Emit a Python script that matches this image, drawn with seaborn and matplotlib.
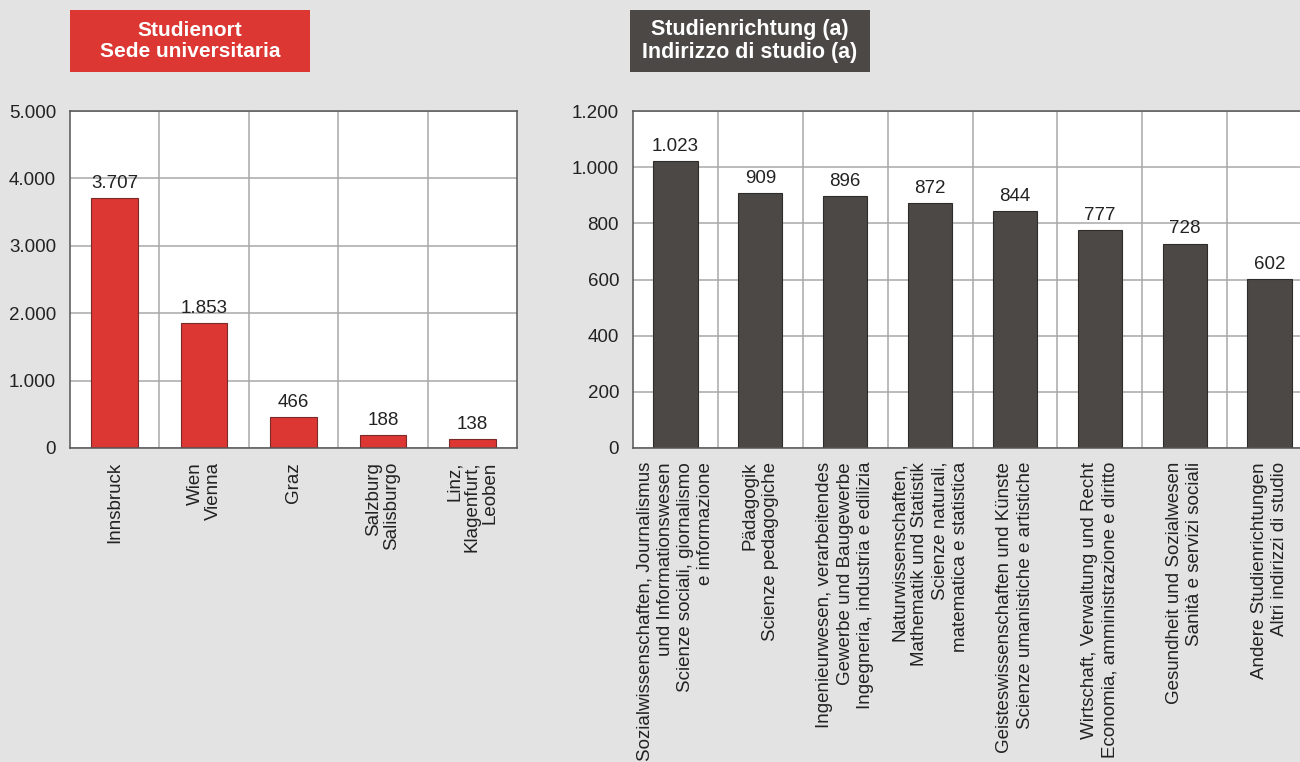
import matplotlib
matplotlib.use("Agg")
import matplotlib.pyplot as plt
import seaborn as sns
import numpy as np
from matplotlib.ticker import FuncFormatter, FixedLocator
from matplotlib.patches import Rectangle

# ---- data ----
orte = ["Innsbruck", "Wien\nVienna", "Graz", "Salzburg\nSalisburgo", "Linz,\nKlagenfurt,\nLeoben"]
orte_vals = [3707, 1853, 466, 188, 138]

richtungen = [
    "Sozialwissenschaften, Journalismus\nund Informationswesen\nScienze sociali, giornalismo\ne informazione",
    "Pädagogik\nScienze pedagogiche",
    "Ingenieurwesen, verarbeitendes\nGewerbe und Baugewerbe\nIngegneria, industria e edilizia",
    "Naturwissenschaften,\nMathematik und Statistik\nScienze naturali,\nmatematica e statistica",
    "Geisteswissenschaften und Künste\nScienze umanistiche e artistiche",
    "Wirtschaft, Verwaltung und Recht\nEconomia, amministrazione e diritto",
    "Gesundheit und Sozialwesen\nSanità e servizi sociali",
    "Andere Studienrichtungen\nAltri indirizzi di studio",
]
richtungen_vals = [1023, 909, 896, 872, 844, 777, 728, 602]

title_left = "Studienort\nSede universitaria"
title_right = "Studienrichtung (a)\nIndirizzo di studio (a)"

RED = "#dc3733"
DARK = "#4b4845"
BG = "#e3e3e3"
GRID = "#a8a8a8"
TXT = "#222222"

sns.set_style("white")
plt.rcParams['font.family'] = ['Liberation Sans', 'DejaVu Sans']

fig = plt.figure(figsize=(13, 7.62), dpi=100, facecolor=BG)

def fmt(v, pos=None):
    return f"{int(v):,}".replace(",", ".")

FS = 13.5

def style_axes(ax, n, ymax, step):
    ax.set_facecolor("white")
    ax.set_xlim(-0.5, n - 0.5)
    ax.set_ylim(0, ymax)
    ax.yaxis.set_major_locator(FixedLocator(np.arange(0, ymax + 1, step)))
    ax.yaxis.set_major_formatter(FuncFormatter(fmt))
    ax.xaxis.set_minor_locator(FixedLocator(np.arange(0.5, n - 0.5, 1)))
    ax.grid(axis="y", which="major", color=GRID, lw=1.1)
    ax.grid(axis="x", which="minor", color=GRID, lw=1.1)
    ax.set_axisbelow(True)
    for s in ax.spines.values():
        s.set_color("#555555")
        s.set_linewidth(1.1)
    ax.tick_params(axis="both", which="both", length=0, labelsize=FS, colors=TXT)
    ax.tick_params(axis="y", pad=10)
    ax.tick_params(axis="x", pad=10)
    ax.set_xlabel("")
    ax.set_ylabel("")

def set_labels(ax, labels, ls):
    ax.set_xticks(range(len(labels)))
    ax.set_xticklabels(labels, rotation=90, ha="center", va="top",
                       multialignment="right", linespacing=ls)

# left
ax1 = fig.add_axes([70/1300, 1-448/762, (517-70)/1300, (448-111)/762])
sns.barplot(x=list(range(len(orte))), y=orte_vals, color=RED, width=0.52,
            edgecolor="#7a2a28", linewidth=0.8, saturation=1, ax=ax1)
style_axes(ax1, len(orte), 5000, 1000)
set_labels(ax1, orte, 1.05)
for i, v in enumerate(orte_vals):
    ax1.text(i, v + 90, fmt(v), ha="center", va="bottom", fontsize=FS, color=TXT)

# right
ax2 = fig.add_axes([633/1300, 1-448/762, (1312-633)/1300, (448-111)/762])
sns.barplot(x=list(range(len(richtungen))), y=richtungen_vals, color=DARK, width=0.52,
            edgecolor="#2e2c2a", linewidth=0.8, saturation=1, ax=ax2)
style_axes(ax2, len(richtungen), 1200, 200)
set_labels(ax2, richtungen, 1.25)
for i, v in enumerate(richtungen_vals):
    ax2.text(i, v + 22, fmt(v), ha="center", va="bottom", fontsize=FS, color=TXT)

# title boxes
def title_box(x0, x1, color, text, size):
    fig.patches.append(Rectangle((x0/1300, 1-72/762), (x1-x0)/1300, 62/762,
                                 transform=fig.transFigure, facecolor=color,
                                 edgecolor="none", zorder=0))
    fig.text((x0+x1)/2/1300, 1-41/762, text, ha="center", va="center",
             color="white", fontsize=size, fontweight="bold", linespacing=1.15)

title_box(70, 310, RED, title_left, 15)
title_box(630, 870, DARK, title_right, 15.5)

fig.savefig("out.png", dpi=100, facecolor=BG)
